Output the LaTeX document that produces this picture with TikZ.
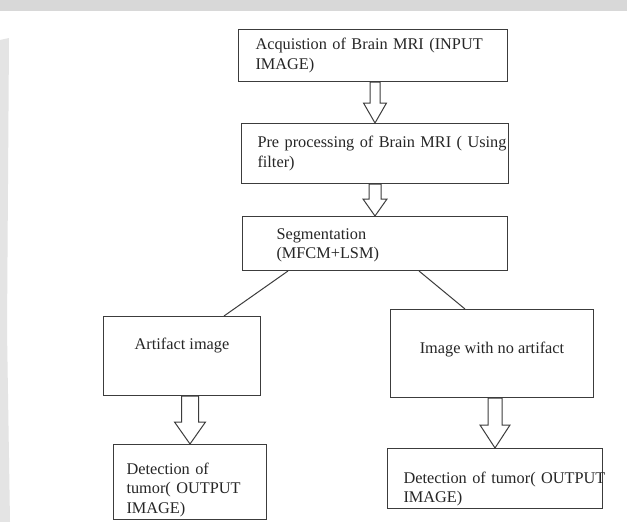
\documentclass[tikz,border=0pt]{standalone}
\usepackage{fontspec}
\setmainfont{Liberation Serif}
\newfontfamily\scanfont{Liberation Serif}
\usetikzlibrary{calc}
\definecolor{scangray}{HTML}{D8D8D8}
\definecolor{edgegray}{HTML}{E4E4E4}
\definecolor{inkgray}{HTML}{3C3C3C}

% hollow block arrow from the bottom of #1 to the top of #2
% #3 half shaft, #4 half head, #5 head length
\newcommand{\hollowdown}[5]{%
  \draw[hollow] let \p1=(#1.south), \p2=(#2.north) in
    (\x2-#3pt,\y1) -- (\x2-#3pt,\y2+#5pt) -- (\x2-#4pt,\y2+#5pt) -- (\x2,\y2)
    -- (\x2+#4pt,\y2+#5pt) -- (\x2+#3pt,\y2+#5pt) -- (\x2+#3pt,\y1) -- cycle;
}

\begin{document}
\begin{tikzpicture}[
        x=1pt, y=-1pt,
        box/.style={
          draw=inkgray,
          line width=1pt,
          anchor=north west,
          text=black!85,
          font=\scanfont\fontsize{16.3}{19.3}\selectfont
        },
        textbox/.style={
          box,
          align=left,
          inner ysep=0pt
        },
        hollow/.style={
          draw=inkgray,
          line width=1pt,
          fill=white
        },
        link/.style={
          draw=inkgray,
          line width=1pt
        }
      ]

      \useasboundingbox (0,0) rectangle (627,522);
      \fill[white] (0,0) rectangle (627,522);
      \fill[scangray] (0,0) rectangle (627,11);
      \fill[edgegray] (0,40) -- (9,38) -- (7,330) -- (10,522) -- (0,522) -- cycle;

      \node[textbox, inner xsep=17pt, text width=235pt, minimum height=52pt] (acq) at (238,29) {
        Acquistion of Brain MRI (INPUT\\IMAGE)
      };

      \node[textbox, inner xsep=16pt, text width=235pt, minimum height=60pt] (prep) at (241,123) {
        \mbox{Pre processing of Brain MRI ( Using}\\filter)
      };

      \node[textbox, inner xsep=34pt, text width=197pt, minimum height=54pt] (seg) at (242,216) {
        \rule{0pt}{14pt}Segmentation\\(MFCM+LSM)
      };

      \node[box, minimum width=157pt, minimum height=79pt, text depth=25pt] (art) at (103,316) {Artifact image};

      \node[box, minimum width=203pt, minimum height=88pt, text depth=11.5pt] (noart) at (390,309) {Image with no artifact};

      \node[textbox, inner xsep=13pt, text width=127pt, minimum height=75pt] (detl) at (113,444) {
        \rule{0pt}{27pt}Detection of\\tumor( OUTPUT\\IMAGE)
      };

      \node[textbox, inner xsep=16pt, text width=183pt, minimum height=60pt] (detr) at (387,448) {
        \rule{0pt}{32pt}\mbox{Detection of tumor( OUTPUT}\\IMAGE)
      };

      \hollowdown{acq}{prep}{5}{11.5}{20}
      \hollowdown{prep}{seg}{6}{12}{17}
      \hollowdown{art}{detl}{8.5}{15.5}{22}
      \hollowdown{noart}{detr}{7}{15}{23}

      \draw[link] ([xshift=46pt]seg.south west) -- ([xshift=-37pt]art.north east);
      \draw[link] ([xshift=-89pt]seg.south east) -- ([xshift=75pt]noart.north west);

      \end{tikzpicture}
\end{document}
